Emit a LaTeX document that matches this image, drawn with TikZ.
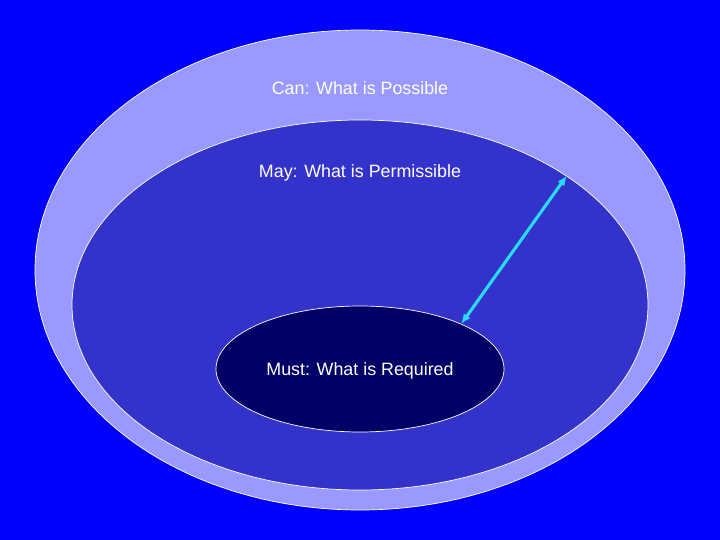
\documentclass[tikz,border=0pt]{standalone}
\usepackage{fontspec}
\setmainfont{Liberation Sans}
\usetikzlibrary{shapes,arrows.meta}

\definecolor{bgblue}{RGB}{0,0,255}
\definecolor{canfill}{RGB}{153,153,255}
\definecolor{mayfill}{RGB}{51,51,204}
\definecolor{mustfill}{RGB}{0,0,102}
\definecolor{arrcyan}{RGB}{40,220,255}

\begin{document}
\begin{tikzpicture}[>={Latex[length=7pt,width=6pt]}]
\tikzstyle{zone}=[ellipse,draw=white,line width=0.5pt,inner sep=0pt]
\tikzstyle{lbl}=[text=white,font=\fontsize{12.7}{15}\selectfont]
\fill[bgblue] (0,0) rectangle (18,13.5);
\useasboundingbox (0,0) rectangle (18,13.5);
\node[zone,fill=canfill,minimum width=16.25cm,minimum height=12cm](can) at (9,6.75) {};
\node[zone,fill=mayfill,minimum width=14.4cm,minimum height=9.25cm](may) at (9,5.875) {};
\node[zone,fill=mustfill,minimum width=7.2cm,minimum height=3.15cm](must) at (9,4.275) {};
\node[lbl](musttext) at (9,4.225) {Must: What is Required};
\node[lbl](cantext) at (9,11.29) {Can: What is Possible};
\node[lbl](maytext) at (9,9.18) {May: What is Permissible};

\draw[<->,arrcyan,line width=2.2pt] (must.24) -- (may.32.6);
\end{tikzpicture}
\end{document}
